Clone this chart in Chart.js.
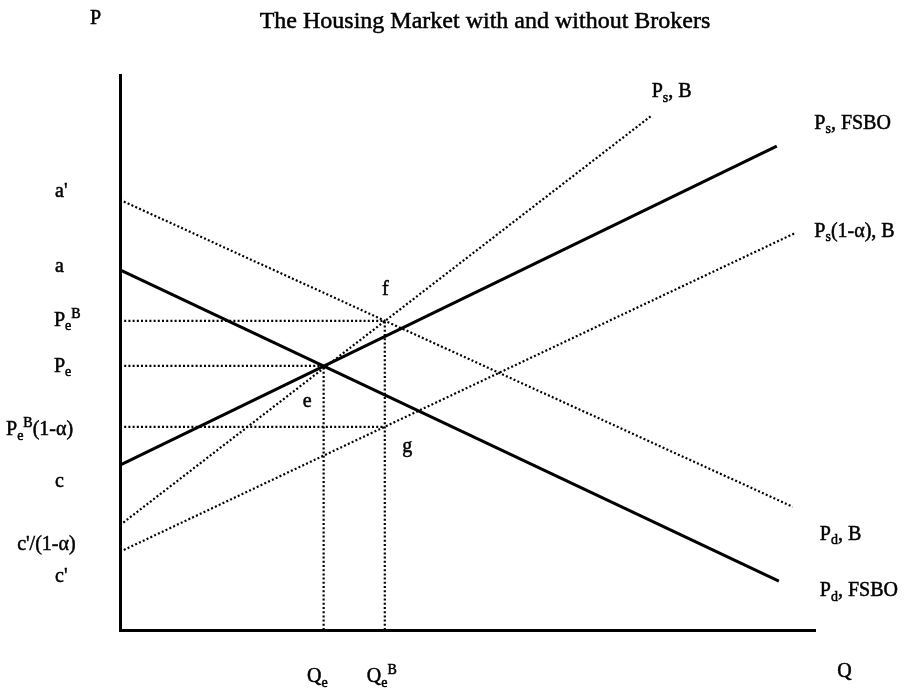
<!DOCTYPE html>
<html>
<head>
<meta charset="utf-8">
<script src="https://cdn.jsdelivr.net/npm/chart.js@4"></script>
<style>
  html, body { margin: 0; padding: 0; background: #fff; }
  #wrap { width: 914px; height: 692px; position: relative; }
</style>
</head>
<body>
<div id="wrap"><canvas id="market"></canvas></div>
<script>
// curves: [start, end] in (Q, P) units
const pdFSBO = [{x: 0, y: 64.9}, {x: 94.8, y: 8.8}];
const pdB = [{x: 0, y: 77.5}, {x: 96.8, y: 22.2}];
const psFSBO = [{x: 0, y: 29.7}, {x: 94.5, y: 87.2}];
const psB = [{x: 0, y: 18.9}, {x: 76.5, y: 92.7}];
const psB1a = [{x: 0, y: 14.1}, {x: 97.1, y: 71.5}];

// equilibrium values
const Qe = 29.3, Pe = 47.6;
const QeB = 38.1, PeB = 55.7, PeB1a = 36.6;

// text labels ("_" = subscript, "^" = superscript), placed in data units
const labels = [
    {t: "P", x: -4.3, y: 109.2},
    {t: "Q", x: 103.2, y: -8.5},
    {t: "a'", x: -9.35, y: 78.0},
    {t: "a", x: -9.35, y: 64.5},
    {t: "P_e^B", x: -9.5, y: 54.8},
    {t: "P_e", x: -9.5, y: 46.5},
    {t: "P_e^B(1-α)", x: -16.4, y: 35.1},
    {t: "c", x: -9.35, y: 25.8},
    {t: "c'/(1-α)", x: -14.8, y: 14.4},
    {t: "c'", x: -9.35, y: 8.6},
    {t: "Q_e", x: 26.9, y: -9.4},
    {t: "Q_e^B", x: 35.5, y: -9.4},
    {t: "e", x: 26.3, y: 40.2},
    {t: "f", x: 37.7, y: 60.4},
    {t: "g", x: 40.6, y: 32.1},
    {t: "P_s, B", x: 76.5, y: 96.0},
    {t: "P_s, FSBO", x: 99.9, y: 90.3},
    {t: "P_s(1-α), B", x: 99.9, y: 70.8},
    {t: "P_d, B", x: 100.7, y: 16.2},
    {t: "P_d, FSBO", x: 100.7, y: 6.1}
];
const TITLE = "The Housing Market with and without Brokers";

const FONT = "'Liberation Serif', 'Times New Roman', serif";

function solid(data) {
    return { data: data, showLine: true, borderColor: '#000', borderWidth: 3, pointRadius: 0, clip: false };
}
function dotted(data) {
    return { data: data, showLine: true, borderColor: '#000', borderWidth: 2.2, borderDash: [2, 2.2], pointRadius: 0, clip: false };
}

// draw "P_e^B(1-α)" style strings, a thin stroke gives the heavier print look
function richText(ctx, str, x, y, size) {
    let cx = x;
    for (let i = 0; i < str.length; i++) {
        let ch = str[i], fs = size, dy = 0;
        if ((ch === '_' || ch === '^') && i + 1 < str.length) {
            dy = ch === '_' ? size * 0.22 : -size * 0.4;
            fs = Math.round(size * 0.7);
            ch = str[++i];
        }
        ctx.font = fs + "px " + FONT;
        ctx.fillText(ch, cx, y + dy);
        ctx.strokeText(ch, cx, y + dy);
        cx += ctx.measureText(ch).width;
    }
}

const textPlugin = {
    id: 'texts',
    afterDraw(chart) {
        const ctx = chart.ctx, sx = chart.scales.x, sy = chart.scales.y;
        ctx.save();
        ctx.fillStyle = '#000';
        ctx.strokeStyle = '#000';
        ctx.lineWidth = 0.5;
        ctx.textBaseline = 'alphabetic';
        ctx.textAlign = 'left';
        labels.forEach(l => richText(ctx, l.t, sx.getPixelForValue(l.x), sy.getPixelForValue(l.y), 20));
        ctx.textAlign = 'center';
        ctx.font = "24px " + FONT;
        ctx.fillText(TITLE, 485, 28);
        ctx.strokeText(TITLE, 485, 28);
        ctx.restore();
    }
};

const axis = {
    type: 'linear', min: 0, max: 100,
    grid: { display: false, drawTicks: false },
    ticks: { display: false },
    border: { display: true, color: '#000', width: 3 }
};

new Chart(document.getElementById('market'), {
    type: 'scatter',
    data: {
        datasets: [
            solid(pdFSBO),
            dotted(pdB),
            solid(psFSBO),
            dotted(psB),
            dotted(psB1a),
            dotted([{x: 0, y: PeB}, {x: QeB, y: PeB}]),
            dotted([{x: 0, y: Pe}, {x: Qe, y: Pe}]),
            dotted([{x: 0, y: PeB1a}, {x: QeB, y: PeB1a}]),
            dotted([{x: Qe, y: 0}, {x: Qe, y: Pe}]),
            dotted([{x: QeB, y: 0}, {x: QeB, y: PeB}])
        ]
    },
    options: {
        responsive: true,
        maintainAspectRatio: false,
        animation: false,
        layout: { padding: { left: 120, right: 99, top: 75, bottom: 62 } },
        plugins: { legend: { display: false }, tooltip: { enabled: false } },
        scales: { x: axis, y: axis }
    },
    plugins: [textPlugin]
});
</script>
</body>
</html>
